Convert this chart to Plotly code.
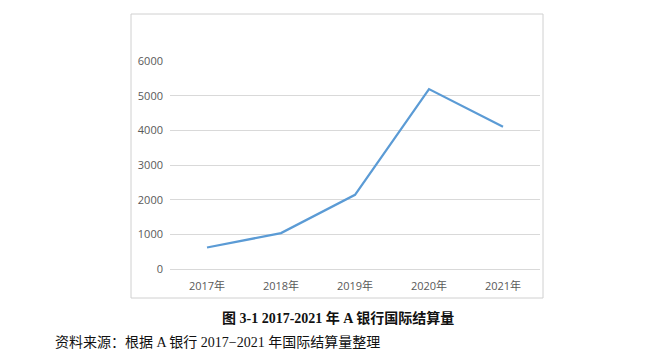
import plotly.graph_objects as go

years = ["2017年", "2018年", "2019年", "2020年", "2021年"]
values = [620, 1035, 2140, 5190, 4100]
y_ticks = [0, 1000, 2000, 3000, 4000, 5000, 6000]

fig = go.Figure()
fig.add_trace(go.Scatter(
    x=years, y=values, mode="lines",
    line=dict(color="#5b9bd5", width=2.25),
    hoverinfo="skip", showlegend=False,
))

W, H = 661, 354
L, R, T, B = 170, 121, 61, 85
pw, ph = W - L - R, H - T - B

def px_to_paper_x(px):
    return (px - L) / pw

def px_to_paper_y(py):
    return (H - B - py) / ph

cap_font = "Liberation Serif, Noto Sans CJK SC"

fig.update_layout(
    width=W, height=H,
    margin=dict(l=L, r=R, t=T, b=B),
    paper_bgcolor="white", plot_bgcolor="white",
    font=dict(family="Open Sans, Noto Sans CJK SC", size=11, color="#595959"),
    xaxis=dict(
        showgrid=False, showline=False, zeroline=False,
        ticks="", ticklabelstandoff=9,
        tickfont=dict(family="Open Sans, Noto Sans CJK SC", size=11, color="#595959"),
        range=[-0.5, 4.5], fixedrange=True,
    ),
    yaxis=dict(
        range=[0, 6000], tickvals=y_ticks,
        showgrid=True, gridcolor="#d9d9d9", gridwidth=1,
        zeroline=True, zerolinecolor="#d9d9d9", zerolinewidth=1,
        showline=False, ticks="", ticklabelstandoff=6,
        tickfont=dict(family="Open Sans, Noto Sans CJK SC", size=11, color="#595959"),
        fixedrange=True,
    ),
    shapes=[dict(
        type="rect", xref="paper", yref="paper",
        x0=px_to_paper_x(131), x1=px_to_paper_x(543),
        y0=px_to_paper_y(298), y1=px_to_paper_y(14),
        line=dict(color="#d0d0d0", width=1), fillcolor="rgba(0,0,0,0)",
        layer="below",
    )],
    annotations=[
        dict(text="<b>图 3-1 2017-2021 年 A 银行国际结算量</b>", xref="paper", yref="paper",
             x=px_to_paper_x(338), y=px_to_paper_y(318), xanchor="center", yanchor="middle",
             showarrow=False, font=dict(family=cap_font, size=14, color="#111111")),
        dict(text="资料来源：根据 A 银行 2017−2021 年国际结算量整理", xref="paper", yref="paper",
             x=px_to_paper_x(53), y=px_to_paper_y(342), xanchor="left", yanchor="middle",
             showarrow=False, font=dict(family=cap_font, size=14, color="#111111")),
    ],
)

fig.write_html("out.html")
